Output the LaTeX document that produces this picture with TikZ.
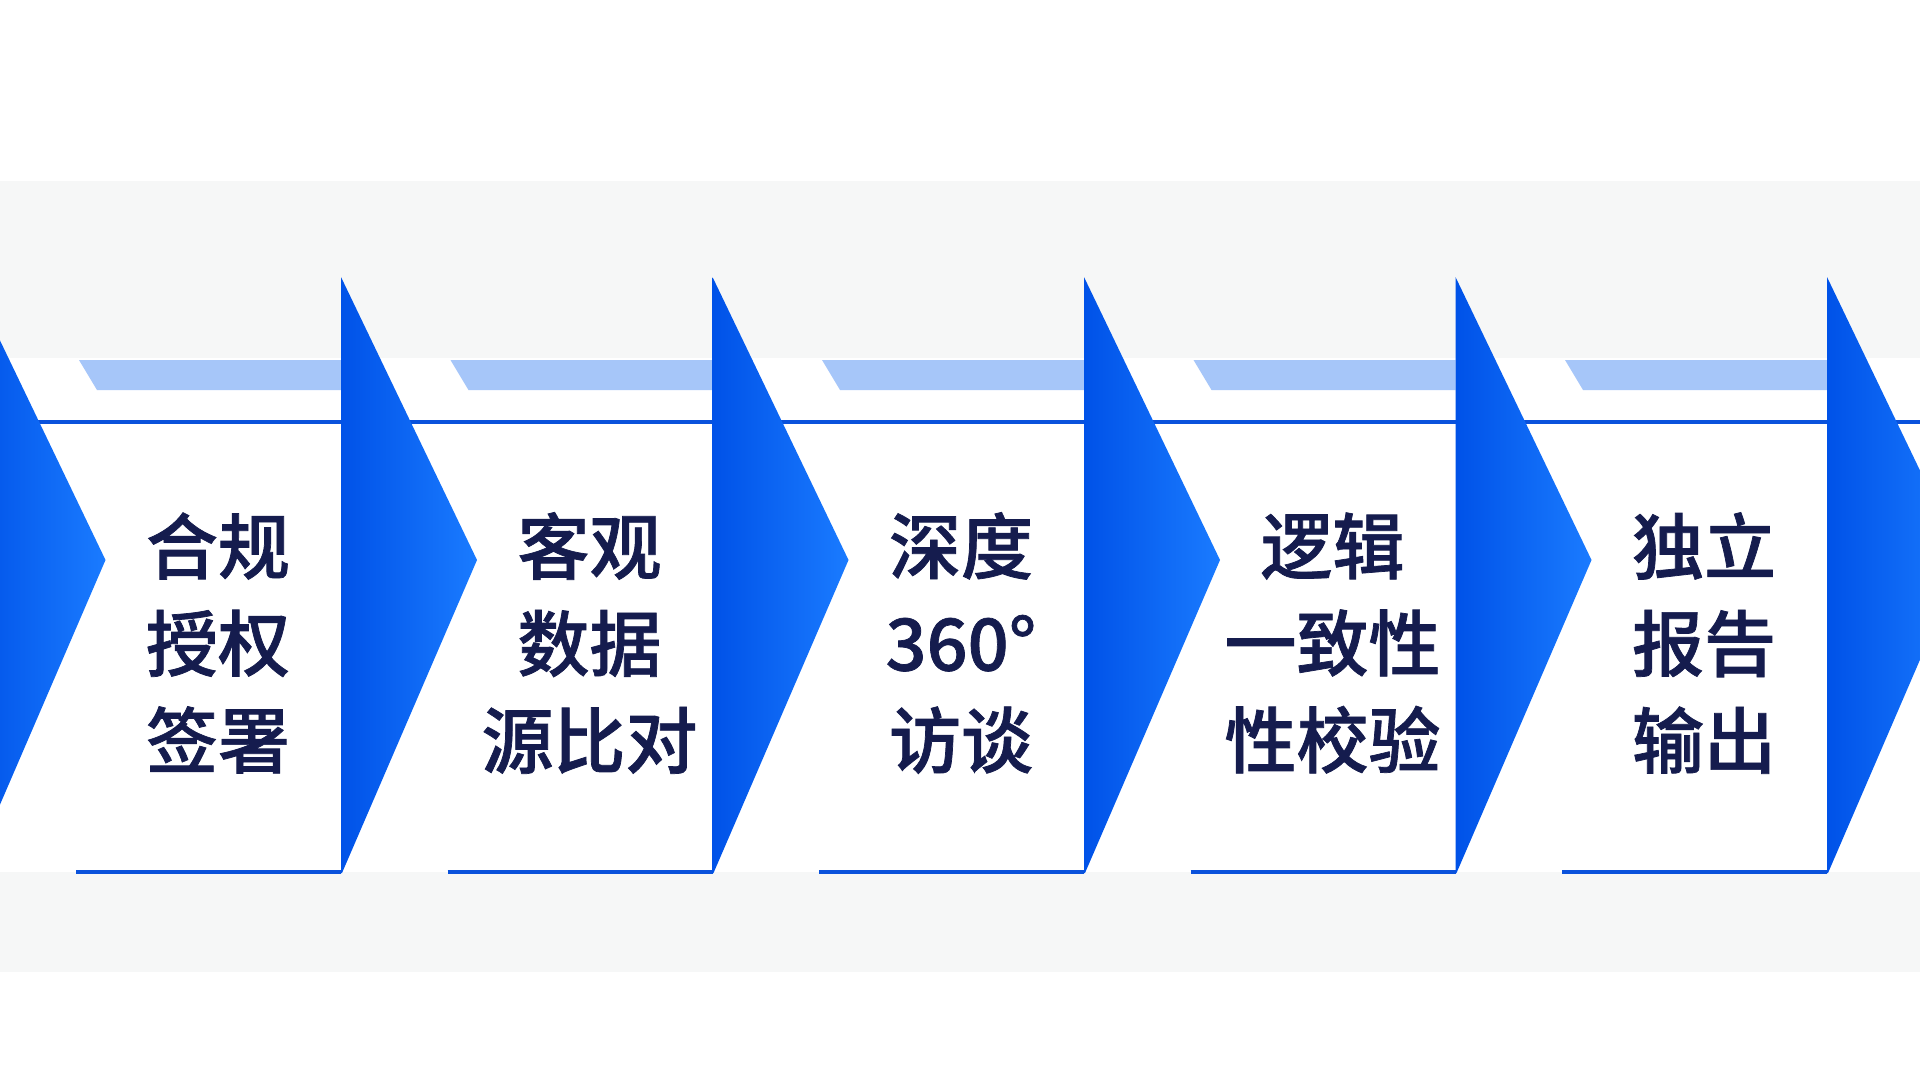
\documentclass[tikz,border=0pt]{standalone}
\usepackage{fontspec}
\newfontfamily\cjk{Noto Sans CJK SC Medium}[BoldFont={Noto Sans CJK SC Medium}, BoldFeatures={FakeBold=1}]
\definecolor{panelgray}{HTML}{F6F7F7}
\definecolor{arrowdark}{HTML}{0052E8}
\definecolor{arrowlight}{HTML}{1A7BFF}
\definecolor{barblue}{HTML}{A6C6F9}
\definecolor{lineblue}{HTML}{0A52DC}
\definecolor{textnavy}{HTML}{151C4E}
\tikzset{
  chevron/.style={left color=arrowdark, right color=arrowlight, draw=none},
  lightbar/.style={fill=barblue, draw=none},
  rule/.style={draw=lineblue, line width=3.5pt},
  stagetext/.style={font=\cjk\bfseries\fontsize{72}{97}\selectfont, text=textnavy, align=center, inner sep=0pt},
}
\begin{document}
\begin{tikzpicture}[x=1pt,y=-1pt]
\useasboundingbox (0,0) rectangle (1920,1080);
\fill[white] (0,0) rectangle (1920,1080);
\fill[panelgray] (0,181) rectangle (1920,972);
\fill[white] (0,358) rectangle (1920,872);
% light bars and bottom rules
\foreach \v in {341,712.5,1084,1455.5,1827}{
  \fill[lightbar] (\v-262,360) -- (\v,360) -- (\v,390) -- (\v-244,390) -- cycle;
  \draw[rule] (\v-265,872) -- (\v,872);
}
% top rule across
\draw[rule] (0,422) -- (1920,422);
% chevron triangles
\foreach \v in {-30.5,341,712.5,1084,1455.5,1827}{
  \shade[chevron] (\v,277) -- (\v+136,560) -- (\v+1,873) -- (\v,873) -- cycle;
}
% texts
\node[stagetext] (t1) at (218,643) {合规\\授权\\签署};
\node[stagetext] (t2) at (589.5,643) {客观\\数据\\源比对};
\node[stagetext] (t3) at (961,643) {深度\\360°\\访谈};
\node[stagetext] (t4) at (1332.5,643) {逻辑\\一致性\\性校验};
\node[stagetext] (t5) at (1704,643) {独立\\报告\\输出};
\end{tikzpicture}
\end{document}
